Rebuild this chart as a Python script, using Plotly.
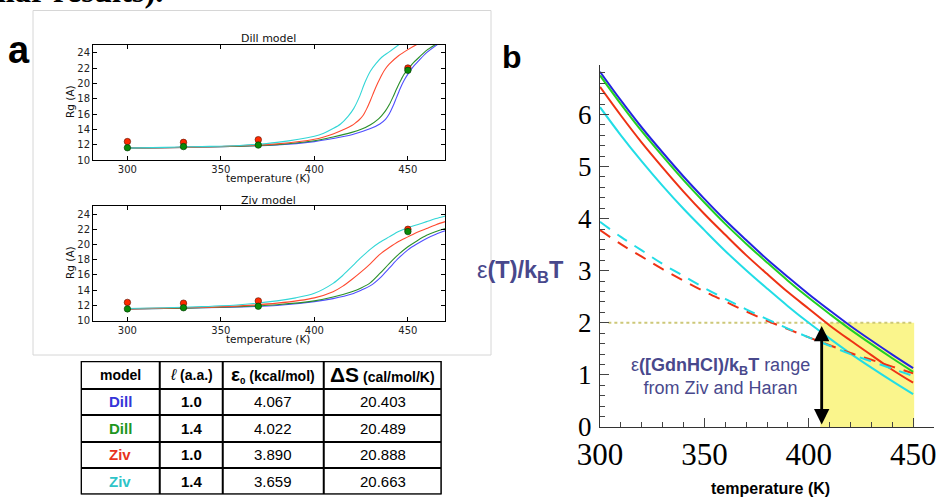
import plotly.graph_objects as go

W, H = 940, 498


def px(x):
    return x / W


def py(y):
    return 1 - y / H


# ---------------- Panel a data ----------------
T_pts = [300, 330, 370, 450]
dill_red_pts = [12.4, 12.3, 12.65, 22.0]
dill_green_pts = [11.6, 11.75, 11.95, 21.7]
ziv_red_pts = [12.4, 12.3, 12.6, 22.0]
ziv_green_pts = [11.55, 11.7, 11.9, 21.7]

# Dill model curves
dill_blue_T = [300, 320, 340, 360, 380, 400, 410, 420, 430, 435, 438, 440, 442, 444, 446, 448, 450, 453, 456, 460, 466]
dill_blue_rg = [11.55, 11.6, 11.7, 11.8, 11.95, 12.4, 12.8, 13.3, 14.1, 14.7, 15.3, 16.0, 17.0, 18.2, 19.4, 20.4, 21.2, 22.2, 23.0, 24.0, 25.1]
dill_green_T = [300, 320, 340, 360, 380, 400, 410, 420, 425, 430, 434, 436, 438, 440, 442, 444, 446, 448, 450, 453, 456, 460, 465]
dill_green_rg = [11.55, 11.6, 11.7, 11.8, 12.0, 12.5, 13.0, 13.6, 14.0, 14.6, 15.3, 15.8, 16.4, 17.2, 18.2, 19.3, 20.3, 21.2, 21.8, 22.7, 23.4, 24.3, 25.1]
dill_red_T = [300, 320, 340, 360, 380, 400, 410, 416, 420, 422, 424, 426, 428, 430, 432, 434, 436, 438, 440, 445, 450, 455]
dill_red_rg = [11.55, 11.6, 11.7, 11.85, 12.1, 12.7, 13.4, 14.0, 14.5, 14.85, 15.25, 15.8, 16.7, 17.8, 19.0, 20.1, 21.1, 21.9, 22.5, 23.6, 24.4, 25.1]
dill_cyan_T = [300, 320, 340, 360, 380, 400, 405, 410, 414, 418, 421, 424, 427, 430, 433, 436, 440, 446]
dill_cyan_rg = [11.55, 11.65, 11.75, 11.9, 12.3, 13.1, 13.5, 14.1, 14.7, 15.7, 16.7, 18.2, 20.1, 21.6, 22.6, 23.4, 24.1, 25.2]

# Ziv model curves
ziv_blue_T = [300, 320, 340, 360, 380, 400, 410, 420, 425, 430, 435, 440, 445, 450, 455, 460, 465, 470]
ziv_blue_rg = [11.55, 11.6, 11.7, 11.8, 12.0, 12.5, 12.9, 13.5, 14.0, 14.6, 15.6, 16.9, 18.2, 19.3, 20.1, 20.8, 21.35, 21.8]
ziv_green_T = [300, 320, 340, 360, 380, 400, 410, 420, 425, 430, 435, 440, 445, 450, 455, 460, 465, 470]
ziv_green_rg = [11.55, 11.6, 11.7, 11.85, 12.1, 12.6, 13.1, 13.8, 14.3, 15.0, 16.2, 17.5, 18.7, 19.7, 20.5, 21.2, 21.7, 22.1]
ziv_red_T = [300, 320, 340, 360, 380, 400, 410, 415, 420, 425, 430, 435, 440, 445, 450, 455, 460, 465, 470]
ziv_red_rg = [11.55, 11.65, 11.75, 11.95, 12.3, 13.0, 13.8, 14.5, 15.4, 16.4, 17.5, 18.7, 19.6, 20.4, 21.0, 21.6, 22.1, 22.6, 23.0]
ziv_cyan_T = [300, 320, 340, 360, 380, 390, 400, 410, 415, 420, 425, 430, 435, 440, 445, 450, 455, 460, 465, 470]
ziv_cyan_rg = [11.6, 11.7, 11.85, 12.1, 12.6, 13.0, 13.6, 14.9, 15.9, 17.1, 18.3, 19.4, 20.3, 21.0, 21.7, 22.2, 22.6, 23.0, 23.4, 23.75]

# ---------------- Panel b data ----------------
T_b = [300, 310, 320, 330, 340, 350, 360, 370, 380, 390, 400, 410, 420, 430, 440, 450]
eps_blue = [6.82, 6.27, 5.75, 5.27, 4.81, 4.38, 3.97, 3.59, 3.22, 2.88, 2.55, 2.24, 1.94, 1.66, 1.39, 1.13]
eps_green = [6.75, 6.20, 5.68, 5.20, 4.74, 4.31, 3.90, 3.52, 3.16, 2.81, 2.48, 2.17, 1.87, 1.59, 1.32, 1.06]
eps_red = [6.53, 5.98, 5.46, 4.98, 4.52, 4.09, 3.69, 3.30, 2.94, 2.59, 2.27, 1.95, 1.66, 1.38, 1.10, 0.85]
eps_cyan = [6.14, 5.60, 5.10, 4.63, 4.19, 3.78, 3.38, 3.01, 2.66, 2.32, 2.00, 1.70, 1.41, 1.14, 0.88, 0.63]
eps_red_dash = [3.78, 3.51, 3.27, 3.03, 2.81, 2.60, 2.41, 2.22, 2.04, 1.88, 1.72, 1.57, 1.42, 1.29, 1.16, 1.03]
eps_cyan_dash = [3.94, 3.65, 3.39, 3.13, 2.90, 2.67, 2.46, 2.26, 2.07, 1.89, 1.72, 1.56, 1.40, 1.26, 1.12, 0.98]

gdn_range_T = [405.5, 450.5]
gdn_range_eps = [0, 2]
arrow_T = 406.2
arrow_eps = [0.05, 1.97]

# ---------------- Table data ----------------
tbl_header = ["<b>model</b>",
              "<i><span style='font-size:16px'>ℓ</span></i><b> (a.a.)</b>",
              "<b><span style='font-size:19px'>ε</span><sub>0</sub> (kcal/mol)</b>",
              "<b><span style='font-size:21px'>ΔS</span> (cal/mol/K)</b>"]
tbl_model = ["Dill", "Dill", "Ziv", "Ziv"]
tbl_ell = ["1.0", "1.4", "1.0", "1.4"]
tbl_eps0 = ["4.067", "4.022", "3.890", "3.659"]
tbl_dS = ["20.403", "20.489", "20.888", "20.663"]
tbl_colors = ["#3535d8", "#1e961e", "#e8321c", "#2ec4c8"]
tbl_colwidths = [79, 63, 100, 118]
tbl_rowheights = [27.5, 26.5, 26.5, 26.5, 26.5]

# colours
A_BLUE, A_GREEN, A_RED, A_CYAN = "#4f4fff", "#2a8f2a", "#ff4a30", "#33d6d6"
B_BLUE, B_GREEN, B_RED, B_CYAN = "#2424e0", "#22d022", "#ee3214", "#22dde6"
TXT_BLUE = "rgb(72,72,140)"

fig = go.Figure()

# panel a traces
for xa, ya, curves, rpts, gpts in [
    ("x", "y",
     [(dill_blue_T, dill_blue_rg, A_BLUE), (dill_green_T, dill_green_rg, A_GREEN),
      (dill_red_T, dill_red_rg, A_RED), (dill_cyan_T, dill_cyan_rg, A_CYAN)],
     dill_red_pts, dill_green_pts),
    ("x2", "y2",
     [(ziv_blue_T, ziv_blue_rg, A_BLUE), (ziv_green_T, ziv_green_rg, A_GREEN),
      (ziv_red_T, ziv_red_rg, A_RED), (ziv_cyan_T, ziv_cyan_rg, A_CYAN)],
     ziv_red_pts, ziv_green_pts),
]:
    for tx, ty, c in curves:
        fig.add_trace(go.Scatter(x=tx, y=ty, mode="lines", xaxis=xa, yaxis=ya,
                                 line=dict(color=c, width=1.1, shape="spline", smoothing=0.8),
                                 showlegend=False, hoverinfo="skip"))
    fig.add_trace(go.Scatter(x=T_pts, y=rpts, mode="markers", xaxis=xa, yaxis=ya,
                             marker=dict(color="#ff2a00", size=6.5, line=dict(color="#551100", width=0.6)),
                             showlegend=False))
    fig.add_trace(go.Scatter(x=T_pts, y=gpts, mode="markers", xaxis=xa, yaxis=ya,
                             marker=dict(color="#0a8a0a", size=6.5, line=dict(color="#003300", width=0.6)),
                             showlegend=False))

# panel b traces
for vals, c, dash in [(eps_blue, B_BLUE, "solid"), (eps_green, B_GREEN, "solid"),
                      (eps_red, B_RED, "solid"), (eps_cyan, B_CYAN, "solid"),
                      (eps_red_dash, B_RED, "12px,9px"), (eps_cyan_dash, B_CYAN, "12px,9px")]:
    fig.add_trace(go.Scatter(x=T_b, y=vals, mode="lines", xaxis="x3", yaxis="y3",
                             line=dict(color=c, width=2, dash=dash, shape="spline"),
                             showlegend=False, hoverinfo="skip"))

# table: white heatmap bricks over a black backing give the cell borders
col_edges = [0]
for w in tbl_colwidths:
    col_edges.append(col_edges[-1] + w)
row_edges = [0]
for h in tbl_rowheights:
    row_edges.append(row_edges[-1] + h)
n_rows, n_cols = len(tbl_rowheights), len(tbl_colwidths)
fig.add_trace(go.Heatmap(x=col_edges, y=row_edges, z=[[0] * n_cols for _ in range(n_rows)],
                         xaxis="x4", yaxis="y4", colorscale=[[0, "white"], [1, "white"]],
                         zmin=0, zmax=1, xgap=2, ygap=2, showscale=False, hoverinfo="skip"))

axis_a = dict(showline=True, linecolor="black", linewidth=1, mirror="ticks", ticks="inside",
              ticklen=4, tickcolor="black", showgrid=False, zeroline=False, automargin=False,
              tickfont=dict(family="DejaVu Sans", size=10, color="#222"))
hidden = dict(visible=False, showgrid=False, zeroline=False, automargin=False)

layout = dict(
    template="none",
    width=W, height=H, margin=dict(l=0, r=0, t=0, b=0, autoexpand=False),
    paper_bgcolor="white", plot_bgcolor="rgba(0,0,0,0)", showlegend=False,
    xaxis=dict(domain=[px(93), px(445.3)], range=[281.6, 470], anchor="y",
               tickvals=[300, 350, 400, 450], **axis_a),
    yaxis=dict(domain=[py(160), py(45)], range=[10, 25], anchor="x",
               tickvals=[10, 12, 14, 16, 18, 20, 22, 24], **axis_a),
    xaxis2=dict(domain=[px(93), px(445.3)], range=[281.6, 470], anchor="y2",
                tickvals=[300, 350, 400, 450], **axis_a),
    yaxis2=dict(domain=[py(320.7), py(206.4)], range=[10, 25], anchor="x2",
                tickvals=[10, 12, 14, 16, 18, 20, 22, 24], **axis_a),
    xaxis3=dict(domain=[px(600), px(934)], range=[300, 460], anchor="y3", automargin=False,
                showline=True, linecolor="#333", linewidth=1, ticks="inside", ticklen=9,
                tickcolor="#444", tickvals=[300, 350, 400, 450], showgrid=False, zeroline=False,
                minor=dict(dtick=10, tick0=300, ticks="inside", ticklen=5, tickcolor="#444"),
                ticklabelstandoff=0,
                tickfont=dict(family="Liberation Serif", size=31, color="black")),
    yaxis3=dict(domain=[py(427), py(65)], range=[0, 6.95], anchor="x3", automargin=False,
                showline=True, linecolor="#333", linewidth=1, ticks="inside", ticklen=9,
                tickcolor="#444", tickvals=[0, 1, 2, 3, 4, 5, 6], showgrid=False, zeroline=False,
                minor=dict(dtick=0.2, tick0=0, ticks="inside", ticklen=5, tickcolor="#444"),
                ticklabelstandoff=2,
                tickfont=dict(family="Liberation Serif", size=27, color="black")),
    xaxis4=dict(domain=[px(80.7), px(441.7)], range=[0, col_edges[-1]], anchor="y4", **hidden),
    yaxis4=dict(domain=[py(361 + row_edges[-1]), py(361)], range=[row_edges[-1], 0], anchor="x4", **hidden),
)
fig.update_layout(**layout)

shapes = [
    dict(type="rect", xref="paper", yref="paper", x0=px(33), x1=px(491), y0=py(355), y1=py(10.5),
         line=dict(color="#d6d6d6", width=1), fillcolor="rgba(0,0,0,0)", layer="below"),
    dict(type="rect", xref="x3", yref="y3", x0=gdn_range_T[0], x1=gdn_range_T[1],
         y0=gdn_range_eps[0], y1=gdn_range_eps[1],
         fillcolor="rgb(250,245,140)", line=dict(width=0), layer="below"),
    dict(type="line", xref="x3", yref="y3", x0=304, x1=gdn_range_T[1],
         y0=gdn_range_eps[1], y1=gdn_range_eps[1],
         line=dict(color="rgb(205,200,120)", width=2, dash="dot"), layer="below"),
    dict(type="rect", xref="x4", yref="y4", x0=0, x1=col_edges[-1], y0=0, y1=row_edges[-1],
         fillcolor="black", line=dict(width=0), layer="below"),
    dict(type="rect", xref="x4", yref="y4", x0=0, x1=col_edges[-1], y0=0, y1=row_edges[-1],
         fillcolor="rgba(0,0,0,0)", line=dict(color="black", width=2.5), layer="above"),
]
fig.update_layout(shapes=shapes)

ann = []


def text(x, y, s, size, family="Liberation Sans", color="black", **kw):
    d = dict(x=px(x), y=py(y), xref="paper", yref="paper", text=s, showarrow=False,
             xanchor="center", yanchor="middle",
             font=dict(family=family, size=size, color=color))
    d.update(kw)
    ann.append(d)


text(165, 11, "<b>similar results).</b>", 32.5, family="Liberation Serif", xanchor="right", yanchor="bottom")
text(19, 50, "<b>a</b>", 38)
text(512, 57, "<b>b</b>", 32)
text(268, 39, "Dill model", 11, family="DejaVu Sans", color="#111")
text(268, 200, "Ziv model", 11, family="DejaVu Sans", color="#111")
text(268, 178, "temperature (K)", 10.5, family="DejaVu Sans", color="#111")
text(268, 339, "temperature (K)", 10.5, family="DejaVu Sans", color="#111")
text(70, 102, "Rg (A)", 10.5, family="DejaVu Sans", color="#111", textangle=-90)
text(70, 263, "Rg (A)", 10.5, family="DejaVu Sans", color="#111", textangle=-90)
text(566, 271, "ε<b>(T)/k<sub>B</sub>T</b>", 23.5, color=TXT_BLUE, xanchor="right")
text(720, 376, "ε<b>([GdnHCl)/k<sub>B</sub>T</b> range<br>from Ziv and Haran", 18, color=TXT_BLUE)
text(770, 488, "<b>temperature (K)</b>", 16)

# table text, placed at cell centres on the table's own axes
col_mid = [(col_edges[i] + col_edges[i + 1]) / 2 for i in range(n_cols)]
row_mid = [(row_edges[i] + row_edges[i + 1]) / 2 for i in range(n_rows)]
for j, s in enumerate(tbl_header):
    ann.append(dict(x=col_mid[j], y=row_mid[0], xref="x4", yref="y4", text=s, showarrow=False,
                    xanchor="center", yanchor="middle",
                    font=dict(family="Liberation Sans", size=14, color="black")))
for i in range(len(tbl_model)):
    row = ["<b>%s</b>" % tbl_model[i], "<b>%s</b>" % tbl_ell[i], tbl_eps0[i], tbl_dS[i]]
    colors = [tbl_colors[i], "black", "black", "black"]
    for j, s in enumerate(row):
        ann.append(dict(x=col_mid[j], y=row_mid[i + 1], xref="x4", yref="y4", text=s,
                        showarrow=False, xanchor="center", yanchor="middle",
                        font=dict(family="Liberation Sans", size=15, color=colors[j])))

ann.append(dict(x=arrow_T, y=arrow_eps[0], ax=arrow_T, ay=arrow_eps[1],
                xref="x3", yref="y3", axref="x3", ayref="y3", text="",
                showarrow=True, arrowhead=2, arrowside="end+start", arrowsize=1.1,
                arrowwidth=2.8, arrowcolor="black", standoff=0, startstandoff=0))
fig.update_layout(annotations=ann)

fig.write_html("out.html")
